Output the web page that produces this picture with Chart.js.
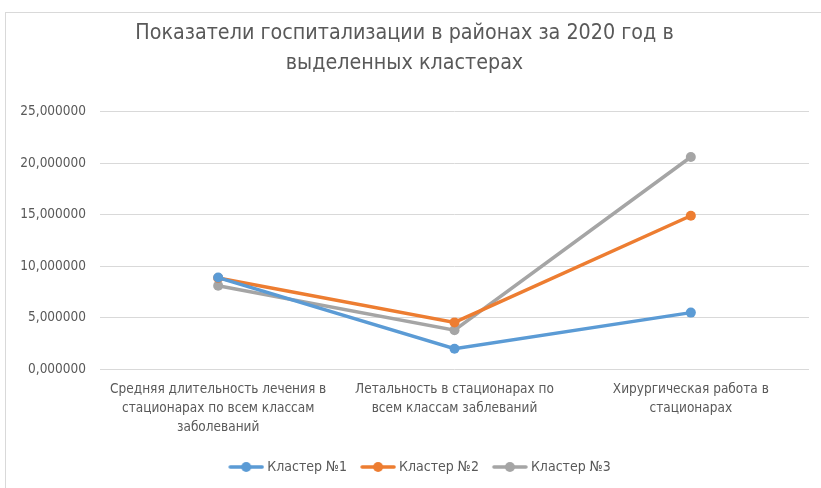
<!DOCTYPE html>
<html>
<head>
<meta charset="utf-8">
<script src="https://cdn.jsdelivr.net/npm/chart.js@4.4.0/dist/chart.umd.min.js"></script>
<style>
	html,body{margin:0;padding:0;background:#fff;}
	#wrap{position:absolute;left:5px;top:12px;width:830px;height:490px;border:1px solid #d9d9d9;box-sizing:border-box;}
	#chart{position:absolute;left:0;top:0;}
</style>
</head>
<body>
<div id="wrap"></div>
<canvas id="chart" width="821" height="488"></canvas>
<script>
var categories=[
	["Средняя длительность лечения в","стационарах по всем классам","заболеваний"],
	["Летальность в стационарах по","всем классам заблеваний"],
	["Хирургическая работа в","стационарах"]
];
var cluster1=[8.9,2.0,5.5];
var cluster2=[8.85,4.55,14.9];
var cluster3=[8.1,3.8,20.6];
var seriesNames=["Кластер №1","Кластер №2","Кластер №3"];
var colors=["#5b9bd5","#ed7d31","#a5a5a5"];
var yTicks=[0,5,10,15,20,25];

var FONT="'Liberation Sans Narrow','DejaVu Sans Condensed',sans-serif";
var TEXT="#595959";

// legend marker: short line with a dot in the middle
// (canvas is wider than the legend box so the text sits close to the line)
function legendMark(color){
	var c=document.createElement("canvas");
	c.width=40;c.height=10;
	var g=c.getContext("2d");
	g.strokeStyle=color;g.lineWidth=3.5;g.lineCap="round";
	g.beginPath();g.moveTo(6,5);g.lineTo(38,5);g.stroke();
	g.fillStyle=color;
	g.beginPath();g.arc(22,5,5,0,Math.PI*2);g.fill();
	return c;
}

function makeSet(k,data){
	return {
		label:seriesNames[k],
		data:data,
		borderColor:colors[k],
		backgroundColor:colors[k],
		borderWidth:3.5,
		pointRadius:5,
		pointHoverRadius:5,
		pointBorderWidth:0,
		pointStyle:"circle",
		tension:0
	};
}

// nudge title and legend sideways after layout
var shiftBoxes={
	id:"shiftBoxes",
	afterLayout:function(chart){
		chart.titleBlock.left-=7;chart.titleBlock.right-=7;
		chart.legend.left+=8;chart.legend.right+=8;
	}
};

var ctx=document.getElementById("chart").getContext("2d");
new Chart(ctx,{
	type:"line",
	data:{
		labels:categories,
		datasets:[makeSet(0,cluster1),makeSet(1,cluster2),makeSet(2,cluster3)]
	},
	plugins:[shiftBoxes],
	options:{
		responsive:false,
		animation:false,
		layout:{padding:{left:14,right:12,top:19,bottom:4}},
		plugins:{
			title:{
				display:true,
				text:["Показатели госпитализации в районах за 2020 год в","выделенных кластерах"],
				color:TEXT,
				font:{family:FONT,size:21.3,weight:"normal",lineHeight:1.4},
				padding:{top:0,bottom:33}
			},
			legend:{
				position:"bottom",
				labels:{
					usePointStyle:true,
					pointStyleWidth:32,
					color:TEXT,
					font:{family:FONT,size:14},
					padding:13,
					generateLabels:function(chart){
						return chart.data.datasets.map(function(ds,i){
							return {text:ds.label,fillStyle:ds.borderColor,strokeStyle:ds.borderColor,lineWidth:0,pointStyle:legendMark(ds.borderColor),datasetIndex:i,fontColor:TEXT};
						});
					}
				}
			},
			tooltip:{enabled:false}
		},
		scales:{
			x:{
				offset:true,
				grid:{display:false,drawTicks:false},
				border:{display:false},
				ticks:{color:TEXT,font:{family:FONT,size:13.5,lineHeight:1.4},padding:10.5,maxRotation:0,autoSkip:false}
			},
			y:{
				min:0,max:25,
				afterBuildTicks:function(axis){axis.ticks=yTicks.map(function(v){return {value:v};});},
				afterFit:function(axis){axis.width=86;},
				grid:{color:"#d9d9d9",lineWidth:1,drawTicks:false},
				border:{display:false},
				ticks:{
					color:TEXT,
					font:{family:FONT,size:13.5},
					padding:14,
					callback:function(v){return v.toFixed(6).replace(".",",");}
				}
			}
		}
	}
});
</script>
</body>
</html>
